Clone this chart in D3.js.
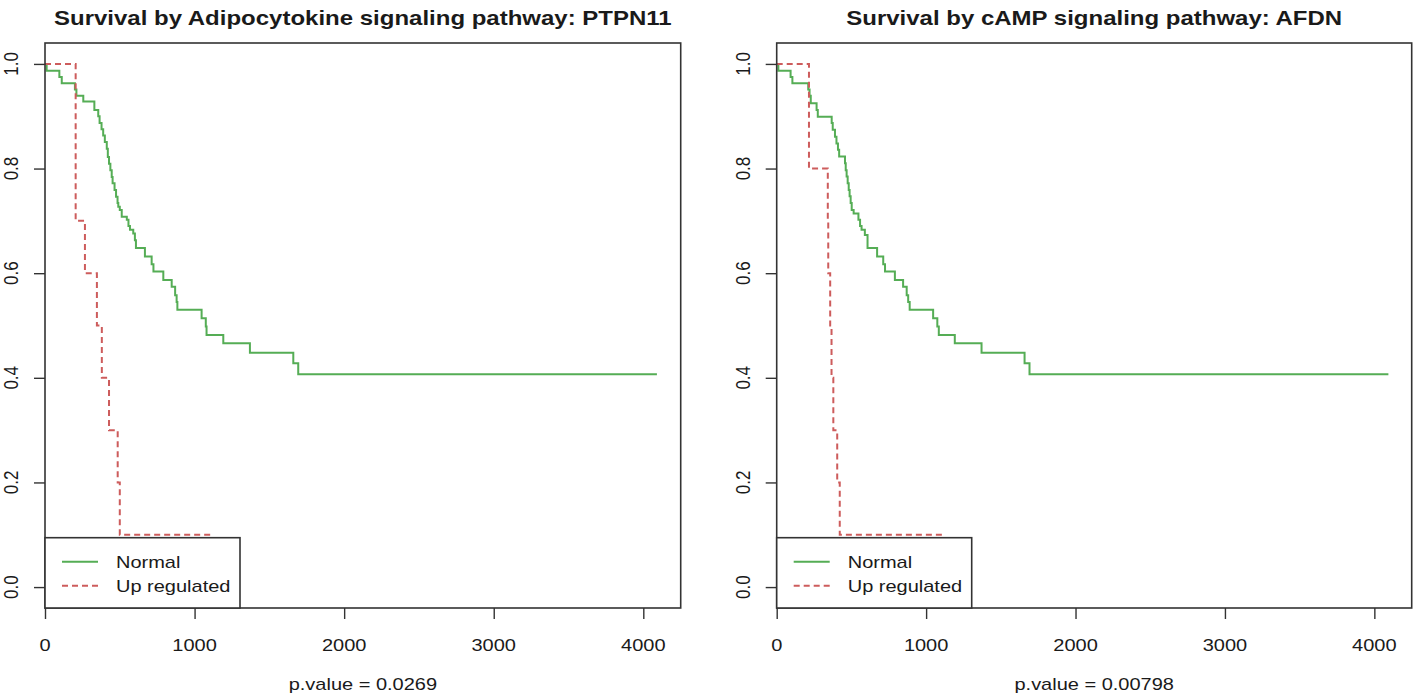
<!DOCTYPE html>
<html>
<head>
<meta charset="utf-8">
<script src="https://cdn.jsdelivr.net/npm/d3@7"></script>
<style>
  html, body { margin: 0; padding: 0; background: #fff; }
  svg { display: block; }
  text { font-family: "Liberation Sans", Arial, Helvetica, sans-serif; fill: #1a1a1a; }
</style>
</head>
<body>
<svg id="chart" width="1418" height="697"></svg>
<script>
// ---------- data ----------
const panelTitles = [
  "Survival by Adipocytokine signaling pathway: PTPN11",
  "Survival by cAMP signaling pathway: AFDN"
];
const pValueLabels = ["p.value = 0.0269", "p.value = 0.00798"];
const legendLabels = ["Normal", "Up regulated"];
const xTicks = [0, 1000, 2000, 3000, 4000];
const yTicks = [0, 0.2, 0.4, 0.6, 0.8, 1.0];

// Left panel: Normal group (time, survival after event)
const leftNormalTimes = [0, 11, 96, 112, 200, 210, 256, 330, 356, 365, 378, 389, 400, 413, 420, 428, 437, 446, 452, 465, 475, 485, 490, 500, 513, 547, 558, 568, 590, 601, 608, 668, 713, 725, 791, 847, 870, 880, 885, 1047, 1075, 1080, 1192, 1370, 1660, 1693, 4091];
const leftNormalSurv  = [1.0, 0.987, 0.975, 0.963, 0.951, 0.939, 0.928, 0.912, 0.900, 0.887, 0.875, 0.863, 0.851, 0.838, 0.822, 0.809, 0.797, 0.784, 0.772, 0.759, 0.746, 0.734, 0.727, 0.721, 0.708, 0.702, 0.690, 0.683, 0.676, 0.663, 0.648, 0.632, 0.617, 0.603, 0.587, 0.574, 0.558, 0.545, 0.530, 0.514, 0.498, 0.482, 0.466, 0.448, 0.428, 0.407, 0.407];
// Left panel: Up regulated group
const leftUpTimes = [0, 205, 267, 347, 380, 428, 486, 500, 1121];
const leftUpSurv  = [1.0, 0.7, 0.6, 0.5, 0.4, 0.3, 0.2, 0.1, 0.1];

// Right panel: Normal group
const rightNormalTimes = [0, 11, 93, 105, 211, 220, 228, 267, 275, 368, 375, 390, 400, 410, 418, 457, 462, 468, 475, 482, 488, 495, 502, 515, 547, 558, 568, 590, 608, 672, 713, 725, 791, 846, 870, 880, 890, 1047, 1075, 1085, 1192, 1371, 1659, 1692, 4094];
const rightNormalSurv  = [1.0, 0.987, 0.975, 0.963, 0.951, 0.939, 0.925, 0.912, 0.899, 0.887, 0.874, 0.861, 0.848, 0.836, 0.823, 0.810, 0.797, 0.785, 0.772, 0.759, 0.747, 0.734, 0.721, 0.714, 0.702, 0.690, 0.683, 0.673, 0.648, 0.632, 0.617, 0.603, 0.587, 0.574, 0.558, 0.545, 0.530, 0.514, 0.498, 0.482, 0.466, 0.448, 0.428, 0.407, 0.407];
// Right panel: Up regulated group
const rightUpTimes = [0, 216, 342, 345, 358, 367, 379, 405, 422, 1114];
const rightUpSurv  = [1.0, 0.8, 0.7, 0.6, 0.5, 0.4, 0.3, 0.2, 0.1, 0.1];

// ---------- styles / layout ----------
const normalColor = "#55ad55";
const upColor = "#cd5c5c";
const axisColor = "#333";
const xDomain = [0, 4250];
const yDomain = [-0.04, 1.04];
const panels = [
  { left: 45,    right: 680.7,  title: panelTitles[0], pval: pValueLabels[0],
    normal: leftNormalTimes.map((t, i) => [t, leftNormalSurv[i]]),
    up: leftUpTimes.map((t, i) => [t, leftUpSurv[i]]) },
  { left: 776.7, right: 1411.7, title: panelTitles[1], pval: pValueLabels[1],
    normal: rightNormalTimes.map((t, i) => [t, rightNormalSurv[i]]),
    up: rightUpTimes.map((t, i) => [t, rightUpSurv[i]]) }
];
const plotTop = 43, plotBottom = 608;
const vs = 0.85; // vertical squash of text to mimic the source aspect

const svg = d3.select("#chart");

function hText(g, x, y, str, size, anchor, weight) {
  return g.append("text")
    .attr("transform", `translate(${x},${y}) scale(1,${vs})`)
    .attr("text-anchor", anchor || "middle")
    .style("font-size", size + "px")
    .style("font-weight", weight || "normal")
    .text(str);
}

panels.forEach(p => {
  const g = svg.append("g");
  const x = d3.scaleLinear().domain(xDomain).range([p.left, p.right]);
  const y = d3.scaleLinear().domain(yDomain).range([plotBottom, plotTop]);
  const line = d3.line().x(d => x(d[0])).y(d => y(d[1])).curve(d3.curveStepAfter);

  // curves
  g.append("path").datum(p.normal).attr("d", line)
    .attr("fill", "none").attr("stroke", normalColor).attr("stroke-width", 2);
  g.append("path").datum(p.up).attr("d", line)
    .attr("fill", "none").attr("stroke", upColor).attr("stroke-width", 2)
    .attr("stroke-dasharray", "6,4");

  // x axis
  const xa = g.append("g").attr("transform", `translate(0,${plotBottom})`)
    .call(d3.axisBottom(x).tickValues(xTicks).tickSize(11).tickFormat(() => ""));
  xa.select(".domain").remove();
  xa.selectAll("line").attr("stroke", axisColor).attr("stroke-width", 1.4);
  xTicks.forEach(t => hText(g, x(t), 650.5, d3.format("d")(t), 20));

  // y axis
  const ya = g.append("g").attr("transform", `translate(${p.left},0)`)
    .call(d3.axisLeft(y).tickValues(yTicks).tickSize(11).tickFormat(() => ""));
  ya.select(".domain").remove();
  ya.selectAll("line").attr("stroke", axisColor).attr("stroke-width", 1.4);
  yTicks.forEach(t => {
    g.append("text")
      .attr("transform", `translate(${p.left - 27},${y(t)}) scale(1,${vs}) rotate(-90)`)
      .attr("text-anchor", "middle")
      .style("font-size", "20px")
      .text(d3.format(".1f")(t));
  });

  // plot box
  g.append("rect").attr("x", p.left).attr("y", plotTop)
    .attr("width", p.right - p.left).attr("height", plotBottom - plotTop)
    .attr("fill", "none").attr("stroke", axisColor).attr("stroke-width", 1.6);

  // legend
  const lg = g.append("g");
  lg.append("rect").attr("x", p.left).attr("y", 537.7)
    .attr("width", 195).attr("height", plotBottom - 537.7)
    .attr("fill", "#fff").attr("stroke", axisColor).attr("stroke-width", 1.6);
  const rows = [
    { label: legendLabels[0], color: normalColor, dash: null, y: 561.7 },
    { label: legendLabels[1], color: upColor, dash: "6,4", y: 585.7 }
  ];
  rows.forEach(r => {
    lg.append("line").attr("x1", p.left + 17).attr("x2", p.left + 53)
      .attr("y1", r.y).attr("y2", r.y)
      .attr("stroke", r.color).attr("stroke-width", 2)
      .attr("stroke-dasharray", r.dash);
    hText(lg, p.left + 71, r.y + 6.3, r.label, 20, "start");
  });

  // title and p-value
  hText(g, (p.left + p.right) / 2, 25, p.title, 24, "middle", "bold");
  hText(g, (p.left + p.right) / 2, 690, p.pval, 20);
});
</script>
</body>
</html>
